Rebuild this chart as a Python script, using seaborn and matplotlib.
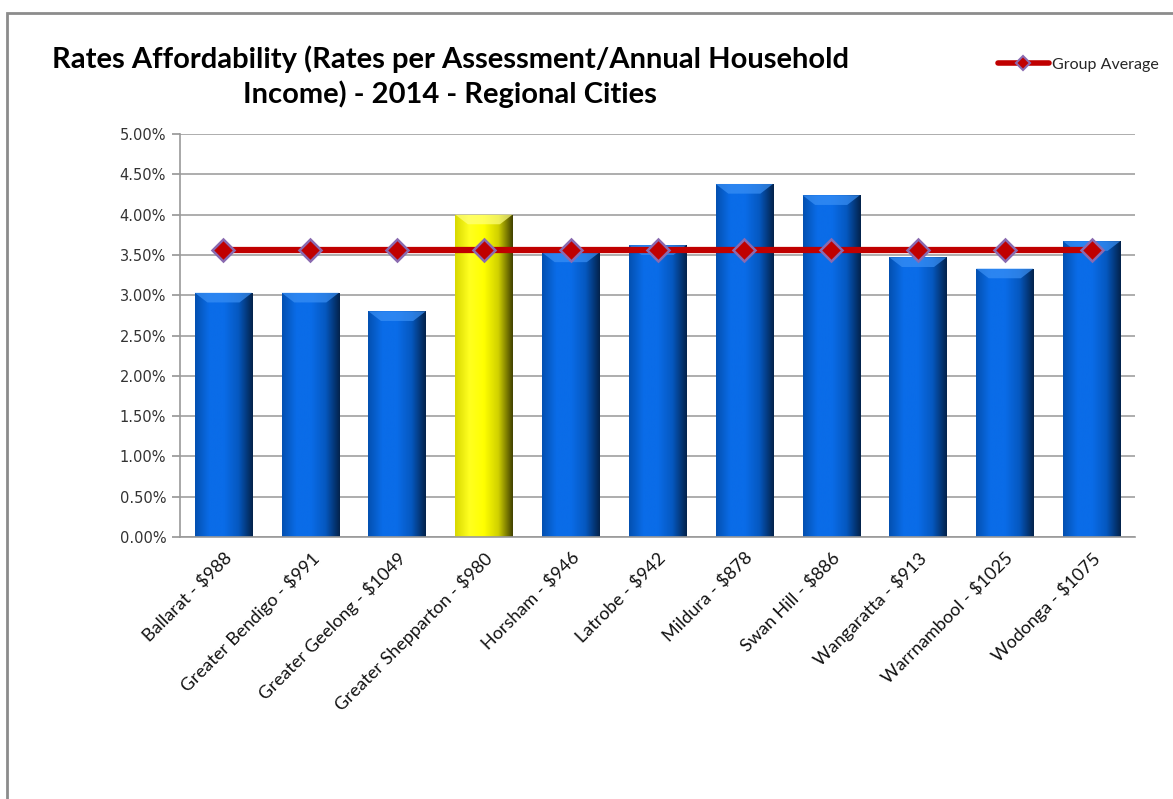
import numpy as np
import pandas as pd
import matplotlib
matplotlib.use("Agg")
import matplotlib.pyplot as plt
from matplotlib.patches import Rectangle
from matplotlib.lines import Line2D
from matplotlib.colors import LinearSegmentedColormap
import seaborn as sns

categories = ["Ballarat - $988", "Greater Bendigo - $991", "Greater Geelong - $1049",
              "Greater Shepparton - $980", "Horsham - $946", "Latrobe - $942",
              "Mildura - $878", "Swan Hill - $886", "Wangaratta - $913",
              "Warrnambool - $1025", "Wodonga - $1075"]
rates = [3.03, 3.03, 2.80, 4.00, 3.53, 3.62, 4.38, 4.24, 3.47, 3.33, 3.67]
group_average = [3.56] * 11
highlight = "Greater Shepparton - $980"

sns.set_theme(style="white")
plt.rcParams['font.family'] = ['Lato', 'DejaVu Sans']

fig = plt.figure(figsize=(11.73, 7.99), dpi=100)
ax = fig.add_axes([0.1535, 0.3279, 0.8141, 0.5044])

df = pd.DataFrame({"city": categories, "rate": rates, "avg": group_average})
palette = {c: ("#FFFF00" if c == highlight else "#0566DD") for c in categories}
sns.barplot(data=df, x="city", y="rate", hue="city", palette=palette, legend=False,
            width=0.66, ax=ax, edgecolor="none", saturation=1)

# gradient shading for bevelled look
blue_cmap = LinearSegmentedColormap.from_list("b", ["#0350B0", "#0A6CE8", "#0A6CE8", "#0558C0", "#03224A"])
yel_cmap = LinearSegmentedColormap.from_list("y", ["#D8D800", "#FFFF20", "#FFFF00", "#D0D000", "#404000"])
grad = np.linspace(0, 1, 256).reshape(1, -1)
for patch, c in zip(ax.patches, categories):
    x0, y0 = patch.get_x(), patch.get_y()
    w, h = patch.get_width(), patch.get_height()
    cmap = yel_cmap if c == highlight else blue_cmap
    im = ax.imshow(grad, cmap=cmap, aspect="auto", extent=[x0, x0 + w, y0, y0 + h],
                   zorder=patch.get_zorder() + 0.1)
    im.set_clip_path(patch)
    # top bevel
    topc = "#FFFF80" if c == highlight else "#3A90F5"
    ax.fill([x0, x0 + w, x0 + w * 0.78, x0 + w * 0.22], [y0 + h, y0 + h, y0 + h - 0.12, y0 + h - 0.12],
            color=topc, alpha=0.7, zorder=patch.get_zorder() + 0.2, lw=0)

sns.lineplot(data=df, x="city", y="avg", ax=ax, color="#C00000", linewidth=4.5,
             marker="D", markersize=11, markerfacecolor="#C00000",
             markeredgecolor="#8A6AB0", markeredgewidth=1.8, zorder=5, sort=False)

ax.set_xlim(-0.5, len(categories) - 0.5)
ax.set_ylim(0, 5.0)
ax.set_yticks(np.arange(0, 5.01, 0.5))
ax.set_yticklabels([f"{v:.2f}%" for v in np.arange(0, 5.01, 0.5)],
                   fontsize=10.5, family=['DejaVu Sans'], color="#333333")
ax.set_xticks(np.arange(len(categories)))
ax.set_xticklabels(categories, rotation=45, ha="right", rotation_mode="anchor",
                   fontsize=13, color="#111111")
ax.tick_params(axis="x", which="major", length=0, pad=9)
ax.tick_params(axis="x", which="minor", length=6, color="#999999", direction="out")
ax.tick_params(axis="y", length=6, color="#999999", direction="out", left=True, pad=4)
ax.set_xticks(np.arange(-0.5, len(categories), 1.0), minor=True)
ax.set_xlabel("")
ax.set_ylabel("")
ax.grid(axis="y", color="#A0A0A0", linewidth=1.2, zorder=0)
ax.set_axisbelow(True)
for s in ["top", "right"]:
    ax.spines[s].set_visible(False)
for s in ["left", "bottom"]:
    ax.spines[s].set_color("#999999")
    ax.spines[s].set_linewidth(1.2)

fig.text(0.384, 0.904, "Rates Affordability (Rates per Assessment/Annual Household\nIncome) - 2014 - Regional Cities",
         ha="center", va="center", fontsize=21, fontweight="bold", linespacing=1.3, color="black")

handle = Line2D([0], [0], color="#C00000", linewidth=4, marker="D", markersize=7,
                markerfacecolor="#C00000", markeredgecolor="#8A6AB0", markeredgewidth=1.5)
fig.legend([handle], ["Group Average"], loc="center right", bbox_to_anchor=(1.0, 0.919),
           frameon=False, fontsize=11.5, handlelength=3.2, handletextpad=0.2)

fig.patches.append(Rectangle((0.006, -0.05), 1.2, 1.034, transform=fig.transFigure,
                             fill=False, edgecolor="#8C8C8C", linewidth=2))

fig.savefig("out.png", dpi=100)
